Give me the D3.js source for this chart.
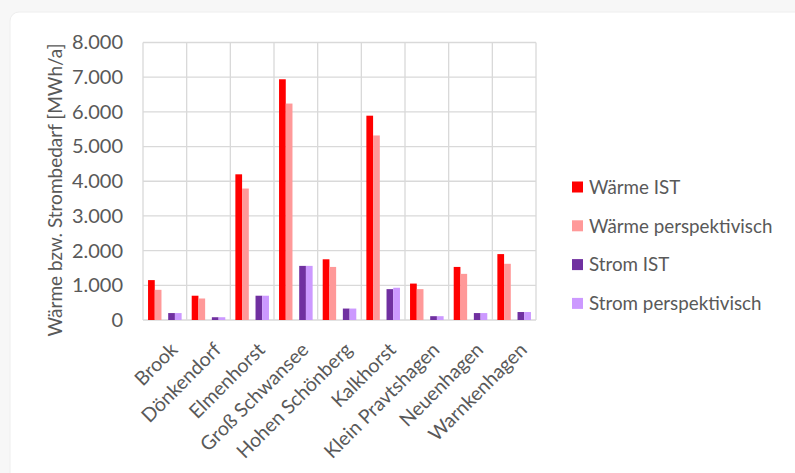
<!DOCTYPE html>
<html>
<head>
<meta charset="utf-8">
<script src="https://cdn.jsdelivr.net/npm/d3@7"></script>
<style>
  html, body { margin: 0; padding: 0; background: #f7f7f7; }
  svg { display: block; }
  text { font-family: Lato, "Open Sans", sans-serif; fill: #595959; }
</style>
</head>
<body>
<svg id="chart" width="795" height="473"></svg>
<script>
// Energy demand per village (MWh/a)
const categories = ["Brook", "Dönkendorf", "Elmenhorst", "Groß Schwansee", "Hohen Schönberg",
                    "Kalkhorst", "Klein Pravtshagen", "Neuenhagen", "Warnkenhagen"];
const waermeIst      = [1150, 700, 4200, 6940, 1750, 5890, 1050, 1530, 1900];
const waermePersp    = [870, 620, 3790, 6240, 1530, 5320, 890, 1330, 1620];
const stromIst       = [200, 80, 700, 1560, 330, 890, 110, 200, 230];
const stromPersp     = [200, 80, 700, 1560, 330, 930, 110, 200, 230];
const seriesNames    = ["Wärme IST", "Wärme perspektivisch", "Strom IST", "Strom perspektivisch"];
const seriesColors   = ["#ff0000", "#ff9999", "#7030a0", "#cc99ff"];
const yTicks         = [0, 1000, 2000, 3000, 4000, 5000, 6000, 7000, 8000];
const yTitle         = "Wärme bzw. Strombedarf [MWh/a]";

const seriesValues = [waermeIst, waermePersp, stromIst, stromPersp];
// the heat pair and the power pair are separated by one empty slot
const slots = ["Wärme IST", "Wärme perspektivisch", "_gap", "Strom IST", "Strom perspektivisch"];

const svg = d3.select("#chart");

// white card
svg.append("rect")
  .attr("x", 10).attr("y", 12).attr("width", 800).attr("height", 480)
  .attr("rx", 9).attr("fill", "#ffffff").attr("stroke", "#eeeeee");

const plot = { left: 143, right: 536, top: 42.5, bottom: 320 };

const de = d3.formatLocale({ decimal: ",", thousands: ".", grouping: [3], currency: ["", " €"] });
const fmt = de.format(",.0f");

const x0 = d3.scaleBand().domain(categories).range([plot.left, plot.right]).padding(0);
const x1 = d3.scaleBand().domain(slots).range([0, x0.bandwidth()]).paddingInner(0).paddingOuter(0.75);
const y = d3.scaleLinear().domain([0, 8000]).range([plot.bottom, plot.top]);

const grid = svg.append("g").attr("stroke", "#d9d9d9").attr("stroke-width", 1.3).attr("fill", "none");
// horizontal gridlines
grid.selectAll("line.h").data(yTicks).join("line").attr("class", "h")
  .attr("x1", plot.left).attr("x2", plot.right)
  .attr("y1", d => y(d)).attr("y2", d => y(d));
// vertical separators between categories
const bounds = categories.map(c => x0(c)).concat([plot.right]);
grid.selectAll("line.v").data(bounds).join("line").attr("class", "v")
  .attr("x1", d => d).attr("x2", d => d)
  .attr("y1", plot.top).attr("y2", plot.bottom);

// bars
seriesNames.forEach((name, si) => {
  svg.append("g").attr("fill", seriesColors[si])
    .selectAll("rect").data(seriesValues[si]).join("rect")
    .attr("x", (d, i) => x0(categories[i]) + x1(name))
    .attr("width", x1.bandwidth())
    .attr("y", d => y(d))
    .attr("height", d => y(0) - y(d));
});

// y axis labels
const yAxis = svg.append("g")
  .attr("transform", `translate(${plot.left},0)`)
  .call(d3.axisLeft(y).tickValues(yTicks).tickFormat(fmt).tickSize(0).tickPadding(20));
yAxis.select(".domain").remove();
yAxis.selectAll("text").attr("font-size", 20).attr("fill", "#595959")
  .style("font-family", "Lato, 'Open Sans', sans-serif");

// category labels
svg.append("g").selectAll("text").data(categories).join("text")
  .attr("transform", d => `translate(${x0(d) + x0.bandwidth() / 2 + 4},341) rotate(-45)`)
  .attr("text-anchor", "end")
  .attr("dy", "0.72em")
  .attr("font-size", 19.5)
  .text(d => d);

// y title
svg.append("text")
  .attr("transform", "translate(62,190) rotate(-90)")
  .attr("text-anchor", "middle")
  .attr("font-size", 19)
  .text(yTitle);

// legend
const legend = svg.append("g").attr("transform", "translate(572,187)");
const rowGap = 38.8;
seriesNames.forEach((name, i) => {
  const g = legend.append("g").attr("transform", `translate(0,${i * rowGap})`);
  g.append("rect").attr("x", 0).attr("y", -5.5).attr("width", 11).attr("height", 11)
    .attr("fill", seriesColors[i]);
  g.append("text").attr("x", 17).attr("dy", "0.36em").attr("font-size", 18.8).text(name);
});
</script>
</body>
</html>
